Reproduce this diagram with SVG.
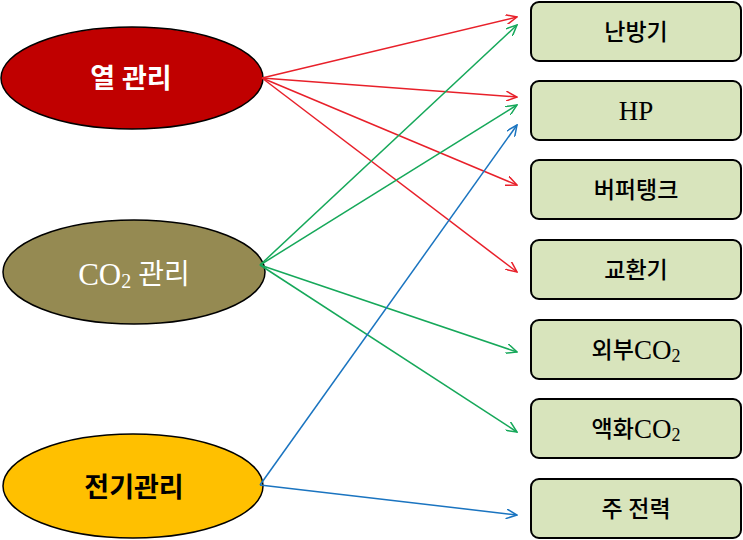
<svg xmlns="http://www.w3.org/2000/svg" width="743" height="540" viewBox="0 0 743 540">
<style>
.t{font-family:"Liberation Serif","Noto Sans CJK KR",serif;text-anchor:middle;dominant-baseline:central}
.bx{fill:#D8E4BC;stroke:#000;stroke-width:2}
.bt{font-size:23px;fill:#000;font-weight:500}
.r{stroke:#E8202A;stroke-width:1.5;fill:none}
.g{stroke:#16A85A;stroke-width:1.5;fill:none}
.b{stroke:#1A74C0;stroke-width:1.5;fill:none}
</style>
<defs>
<marker id="mr" viewBox="0 0 12 10" refX="11" refY="5" markerWidth="12" markerHeight="10" markerUnits="userSpaceOnUse" orient="auto"><path d="M0,0 L11,5 L0,10" fill="none" stroke="#E8202A" stroke-width="1.5"/></marker>
<marker id="mg" viewBox="0 0 12 10" refX="11" refY="5" markerWidth="12" markerHeight="10" markerUnits="userSpaceOnUse" orient="auto"><path d="M0,0 L11,5 L0,10" fill="none" stroke="#16A85A" stroke-width="1.5"/></marker>
<marker id="mb" viewBox="0 0 12 10" refX="11" refY="5" markerWidth="12" markerHeight="10" markerUnits="userSpaceOnUse" orient="auto"><path d="M0,0 L11,5 L0,10" fill="none" stroke="#1A74C0" stroke-width="1.5"/></marker>
</defs>
<g id="heat">
<ellipse cx="132" cy="78" rx="131" ry="51" fill="#C00000" stroke="#000" stroke-width="1.5"/>
<text class="t" x="131" y="79" font-size="27" font-weight="bold" fill="#fff">열 관리</text>
</g>
<g id="co2">
<ellipse cx="134" cy="272" rx="131" ry="52" fill="#958A52" stroke="#000" stroke-width="1.5"/>
<text class="t" x="134" y="274" font-size="28" fill="#fff"><tspan font-size="31">CO</tspan><tspan font-size="20" dy="7">2</tspan><tspan dy="-7"> 관리</tspan></text>
</g>
<g id="elec">
<ellipse cx="133" cy="486" rx="130" ry="52" fill="#FFC000" stroke="#000" stroke-width="1.5"/>
<text class="t" x="134" y="488" font-size="27" font-weight="bold" fill="#000">전기관리</text>
</g>
<g id="n1"><rect class="bx" x="531" y="2" width="210" height="59" rx="8"/><text class="t bt" x="636" y="32">난방기</text></g>
<g id="n2"><rect class="bx" x="531" y="81" width="210" height="59" rx="8"/><text class="t bt" x="636" y="111" style="font-size:27px">HP</text></g>
<g id="n3"><rect class="bx" x="531" y="160" width="210" height="59" rx="8"/><text class="t bt" x="636" y="190">버퍼탱크</text></g>
<g id="n4"><rect class="bx" x="531" y="240" width="210" height="59" rx="8"/><text class="t bt" x="636" y="270">교환기</text></g>
<g id="n5"><rect class="bx" x="531" y="320" width="210" height="59" rx="8"/><text class="t bt" x="636" y="350">외부<tspan font-size="27">CO</tspan><tspan font-size="18" dy="6">2</tspan></text></g>
<g id="n6"><rect class="bx" x="531" y="399" width="210" height="59" rx="8"/><text class="t bt" x="636" y="429">액화<tspan font-size="27">CO</tspan><tspan font-size="18" dy="6">2</tspan></text></g>
<g id="n7"><rect class="bx" x="531" y="479" width="210" height="59" rx="8"/><text class="t bt" x="636" y="509">주 전력</text></g>
<g id="connectors">
<line class="r" x1="262" y1="78" x2="517" y2="17" marker-end="url(#mr)"/>
<line class="r" x1="262" y1="78" x2="517" y2="97" marker-end="url(#mr)"/>
<line class="r" x1="262" y1="78" x2="517" y2="185" marker-end="url(#mr)"/>
<line class="r" x1="262" y1="78" x2="517" y2="272" marker-end="url(#mr)"/>
<line class="g" x1="260" y1="265" x2="517" y2="25" marker-end="url(#mg)"/>
<line class="g" x1="260" y1="265" x2="517" y2="105" marker-end="url(#mg)"/>
<line class="g" x1="260" y1="265" x2="517" y2="352" marker-end="url(#mg)"/>
<line class="g" x1="260" y1="265" x2="517" y2="432" marker-end="url(#mg)"/>
<line class="b" x1="260" y1="485" x2="517" y2="125" marker-end="url(#mb)"/>
<line class="b" x1="260" y1="485" x2="517" y2="515" marker-end="url(#mb)"/>
</g>
</svg>
